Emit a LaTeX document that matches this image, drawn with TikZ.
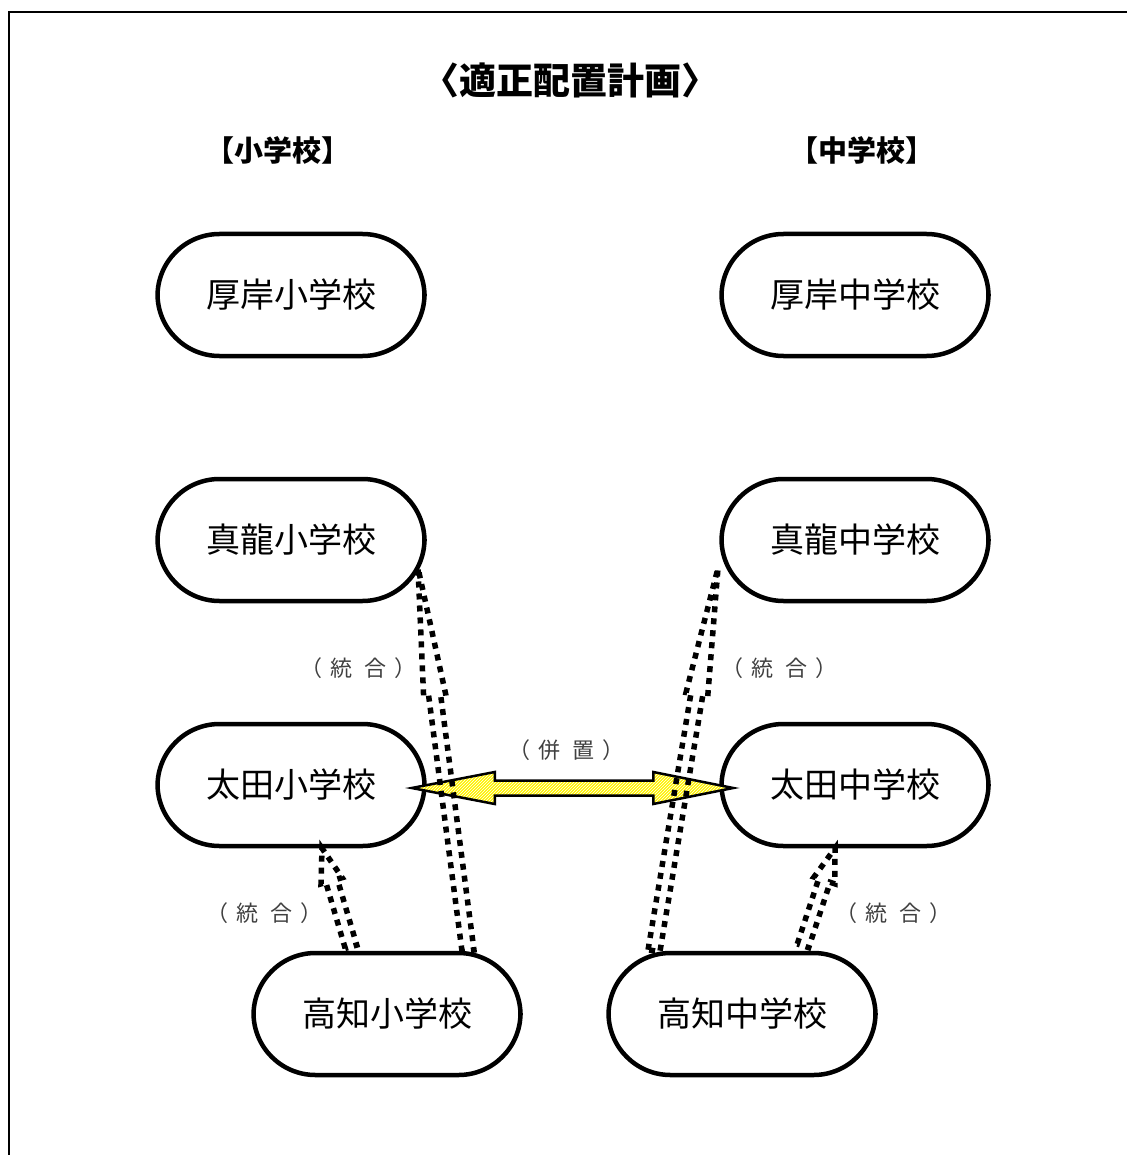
\documentclass[tikz,border=0pt]{standalone}
\usepackage{fontspec}
\setmainfont{Noto Sans CJK JP}
\usetikzlibrary{calc,patterns}
% dotted block arrow: tail #1, tip #2
\newcommand{\blk}[2]{%
  \coordinate (hb) at ($(#2)!0.33!(#1)$);
  \draw[mergearrow] ($(#1)!6pt!90:(#2)$) -- ($(hb)!6pt!90:(#2)$) -- ($(hb)!11pt!90:(#2)$) -- (#2)
    -- ($(hb)!11pt!-90:(#2)$) -- ($(hb)!6pt!-90:(#2)$) -- ($(#1)!6pt!-90:(#2)$) -- cycle;}
\newcommand{\pair}[2]{\hspace{-.3em}（\hspace{.35em}#1\hspace{.55em}#2\hspace{.35em}）\hspace{-.3em}}

\begin{document}
\begin{tikzpicture}[x=1pt,y=-1pt,
  school/.style={draw, line width=4.5pt, rounded corners=62pt, minimum width=267pt,
    minimum height=122pt, font=\fontsize{34}{40}\selectfont},
  mergearrow/.style={line width=5.5pt, dash pattern=on 6pt off 6pt},
  note/.style={text=black!75, font=\fontsize{22}{26}\selectfont},
  heiarrow/.style={draw, line width=2.5pt, preaction={fill=yellow},
    pattern=north east lines, pattern color=white}]
\useasboundingbox (0,0) rectangle (1127,1155);
\draw[line width=2pt] (9,1155) -- (9,12) -- (1127,12);

\node[font=\fontsize{37}{44}\selectfont\bfseries] (title) at (570,80) {〈適正配置計画〉};
\node[font=\fontsize{29}{34}\selectfont\bfseries] (hdrE) at (278,150) {【小学校】};
\node[font=\fontsize{29}{34}\selectfont\bfseries] (hdrJ) at (862,150) {【中学校】};

\foreach \n/\y/\t in {atsu/295/厚岸, shin/540/真龍, ota/785/太田}{
  \node[school] (e\n) at (291,\y) {\t 小学校};
  \node[school] (j\n) at (855,\y) {\t 中学校};
}
\node[school] (ekochi) at (387,1014) {高知小学校};
\node[school] (jkochi) at (742,1014) {高知中学校};

% (heichi)
\coordinate (pl) at ($(eota.east)+(-15,3)$);
\coordinate (pr) at ($(jota.west)+(14,3)$);
\draw[heiarrow] (pl) -- ++(83,-16) -- ++(0,8.5) -- ($(pr)+(-80,-7.5)$) -- ++(0,-8.5)
  -- (pr) -- ++(-80,16) -- ++(0,-8.5) -- ($(pl)+(83,7.5)$) -- ++(0,8.5) -- cycle;
\node[note] (lblH) at (570,750) {\pair{併}{置}};

% (tougou)
\blk{$(ekochi.north)+(81,0)$}{$(eshin)+(127,28)$}
\blk{$(ekochi.north)+(-36,-4)$}{$(eota.south)+(31,0)$}
\blk{$(jkochi.north)+(-88,0)$}{$(jshin)+(-137,28)$}
\blk{$(jkochi.north)+(61,-5)$}{$(jota.south)+(-20,0)$}
\node[note] (lblE1) at (362,668) {\pair{統}{合}};
\node[note] (lblJ1) at (783,668) {\pair{統}{合}};
\node[note] (lblE2) at (268,913) {\pair{統}{合}};
\node[note] (lblJ2) at (897,913) {\pair{統}{合}};
\end{tikzpicture}
\end{document}
